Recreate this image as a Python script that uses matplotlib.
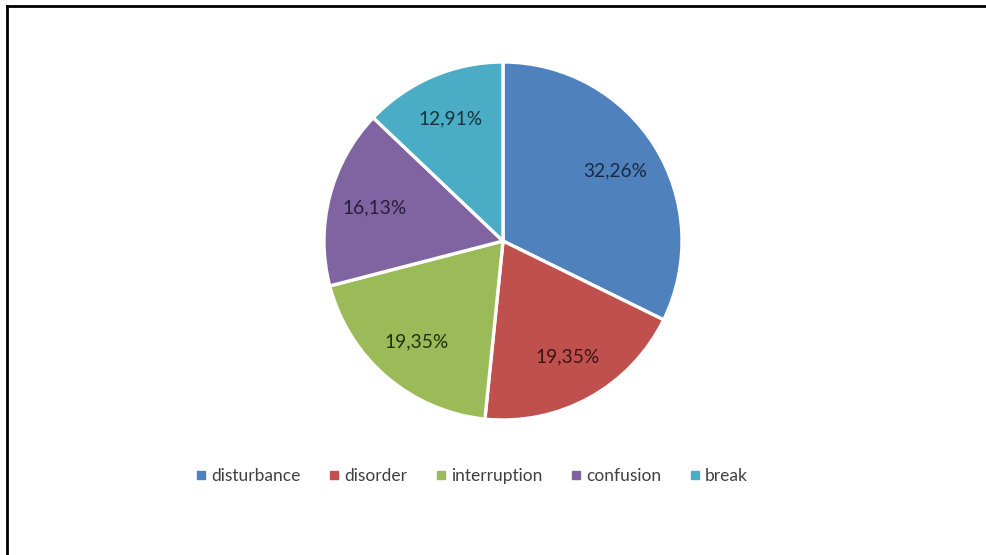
import matplotlib
matplotlib.use("Agg")
import matplotlib.pyplot as plt
from matplotlib.lines import Line2D

categories = ["disturbance", "disorder", "interruption", "confusion", "break"]
shares = [32.26, 19.35, 19.35, 16.13, 12.91]
colors = ["#4F81BD", "#C0504D", "#9BBB59", "#8064A2", "#4BACC6"]
label_colors = ["#1c2a44", "#3a1514", "#22300f", "#2a1d3a", "#17343e"]

plt.rcParams["font.family"] = ["Lato", "DejaVu Sans"]

W, H = 986, 555
fig = plt.figure(figsize=(W / 100, H / 100), dpi=100)
fig.patch.set_facecolor("white")

# pie axes, centred at (503, 241) px with radius 179 px
cx, cy, r = 503, 241, 179
ax = fig.add_axes([(cx - r) / W, (H - cy - r) / H, 2 * r / W, 2 * r / H])


def fmt(p):
    return f"{p:.2f}".replace(".", ",") + "%"


wedges, _, autotexts = ax.pie(
    shares, colors=colors, startangle=90, counterclock=False,
    autopct=fmt, pctdistance=0.74,
    wedgeprops=dict(edgecolor="white", linewidth=2.4),
    textprops=dict(fontsize=13.8),
)
for t, c in zip(autotexts, label_colors):
    t.set_color(c)
ax.set_xlim(-1.0, 1.0)
ax.set_ylim(-1.0, 1.0)
ax.set_aspect("equal")
ax.axis("off")

# legend along the bottom
handles = [Line2D([], [], marker="s", linestyle="none", markersize=5.5,
                  markerfacecolor=c, markeredgecolor=c) for c in colors]
fig.legend(handles, categories, loc="center", bbox_to_anchor=(470 / W, 1 - 476 / H),
           ncol=5, frameon=False, fontsize=12.5, handletextpad=0.1,
           columnspacing=1.42, labelcolor="#404040", handlelength=1.0)

# outer frame (left and top edges)
fig.add_artist(Line2D([7 / W, 7 / W], [0, 1 - 6 / H], transform=fig.transFigure,
                      color="black", linewidth=2))
fig.add_artist(Line2D([7 / W, 1], [1 - 6 / H, 1 - 6 / H], transform=fig.transFigure,
                      color="black", linewidth=2))

fig.savefig("out.png", dpi=100)
